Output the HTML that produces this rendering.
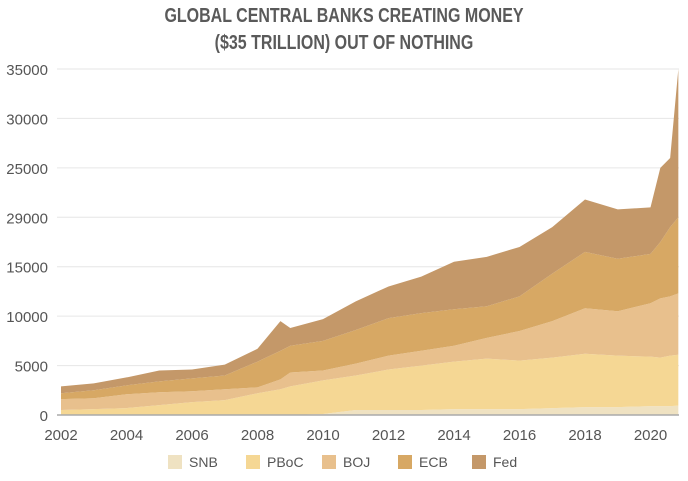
<!DOCTYPE html>
<html><head><meta charset="utf-8"><style>
body{margin:0;background:#fff;width:688px;height:476px;overflow:hidden;font-family:"Liberation Sans",sans-serif}
</style></head><body>
<svg id="chart" width="688" height="476" xmlns="http://www.w3.org/2000/svg">
<text x="344" y="22" text-anchor="middle" font-size="20" font-weight="bold" fill="#5a5a5a" transform="translate(344,0) scale(0.8,1) translate(-344,0)">GLOBAL CENTRAL BANKS CREATING MONEY</text>
<text x="344" y="49" text-anchor="middle" font-size="20" font-weight="bold" fill="#5a5a5a" transform="translate(344,0) scale(0.8,1) translate(-344,0)">($35 TRILLION) OUT OF NOTHING</text>
<g id="grid"></g><g id="areas"></g><g id="axes"></g><g id="legend"></g>
</svg>
<script>
const years=[2002,2003,2004,2005,2006,2007,2008,2008.7,2009,2010,2011,2012,2013,2014,2015,2016,2017,2018,2019,2020,2020.3,2020.6,2020.85];
const snb=[0,0,0,0,0,0,0,0,0,100,500,500,500,600,600,600,700,800,800,900,900,900,950];
const pboc=[500,600,700,1000,1300,1500,2200,2600,2900,3400,3500,4100,4500,4800,5100,4900,5100,5400,5200,5000,4900,5100,5150];
const boj=[1100,1100,1400,1300,1100,1100,600,1000,1400,1000,1200,1400,1500,1600,2100,3000,3700,4600,4500,5400,6000,6000,6200];
const ecb=[600,800,900,1100,1300,1400,2600,2900,2700,3000,3400,3800,3800,3700,3200,3500,4800,5700,5300,5000,5700,7000,7700];
const fed=[700,700,800,1100,900,1100,1300,3000,1800,2200,2900,3200,3700,4800,5000,5000,4700,5300,5000,4700,7500,7000,15000];
const seriesNames=["SNB","PBoC","BOJ","ECB","Fed"];
const yTicks=[0,5000,10000,15000,20000,25000,30000,35000];
const yTickLabels=["0","5000","10000","15000","29000","25000","30000","35000"];
const xTicks=[2002,2004,2006,2008,2010,2012,2014,2016,2018,2020];
const colors=["#efe2c2","#f5d794","#e8c08d","#d7a864","#c49869"];
const NS="http://www.w3.org/2000/svg";
const x=v=>61+(v-2002)*32.75;
const y=v=>415-v*(346/35000);
function mk(tag,attrs,parent){const e=document.createElementNS(NS,tag);for(const k in attrs)e.setAttribute(k,attrs[k]);parent.appendChild(e);return e;}
const grid=document.getElementById('grid'),axes=document.getElementById('axes'),areas=document.getElementById('areas'),legend=document.getElementById('legend');
yTicks.forEach((t,i)=>{
  const l=mk('line',{x1:57,x2:679,y1:y(t),y2:y(t),stroke:'#e6e6e6','stroke-width':1},grid);
  
  
  const tx=mk('text',{x:48,y:y(t)+6,'text-anchor':'end','font-size':15,fill:'#555'},axes);
  tx.textContent=yTickLabels[i];
  
  
});
xTicks.forEach(t=>{
  const tx=mk('text',{x:x(t),y:440,'text-anchor':'middle','font-size':15,fill:'#555'},axes);
  tx.textContent=t;
  
  
});
const data=[snb,pboc,boj,ecb,fed];
let base=years.map(()=>0);
data.forEach((s,k)=>{
  const top=base.map((b,i)=>b+s[i]);
  let d='M'+years.map((yr,i)=>x(yr)+','+y(top[i])).join('L');
  for(let i=years.length-1;i>=0;i--)d+='L'+x(years[i])+','+y(base[i]);
  d+='Z';
  const p=mk('path',{d:d,fill:colors[k]},areas);
  
  
  base=top;
});
const ax=mk('line',{x1:57,x2:679,y1:415,y2:415,stroke:'#aaa','stroke-width':1.5},axes);


const lx=[168,246,322,398,472];
seriesNames.forEach((n,k)=>{
  const g=mk('g',{},legend);
  
  
  mk('rect',{x:lx[k],y:455,width:14,height:14,fill:colors[k]},g);
  const t=mk('text',{x:lx[k]+21,y:467,'font-size':14,fill:'#555'},g);
  t.textContent=n;
});
</script>
</body></html>
